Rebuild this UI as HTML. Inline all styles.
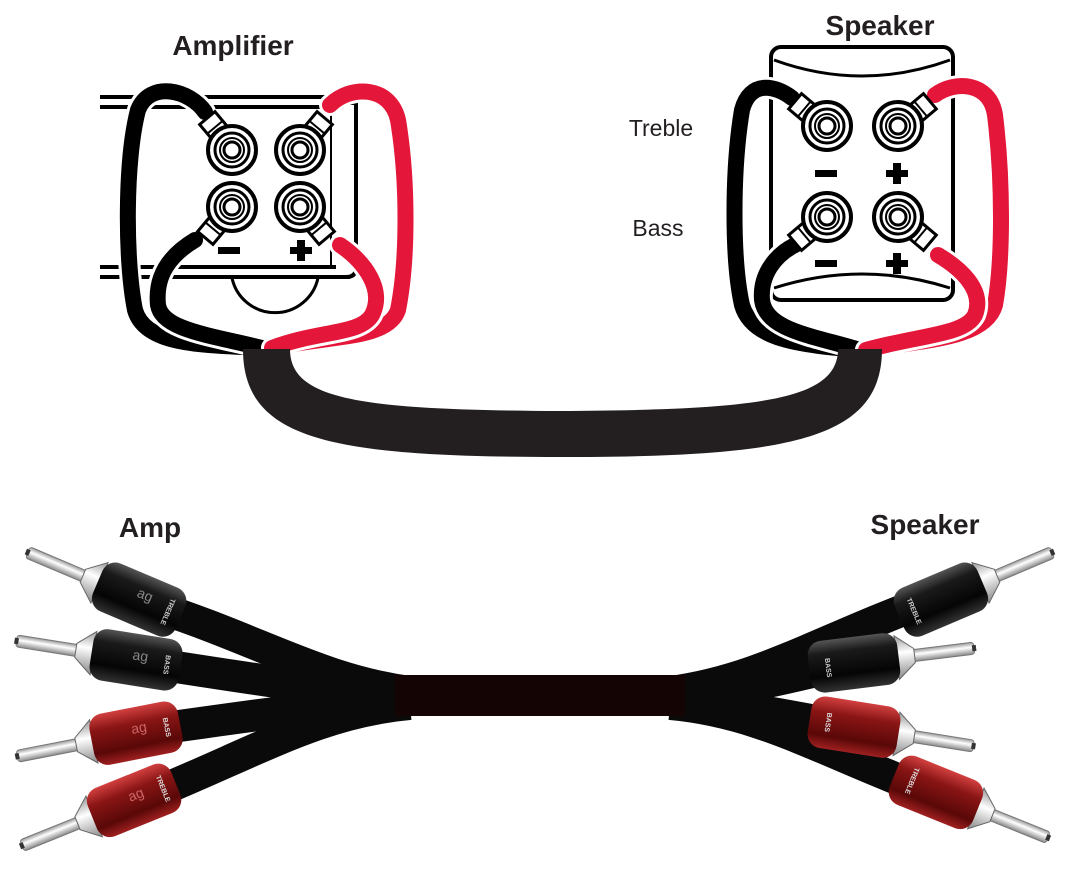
<!DOCTYPE html>
<html><head><meta charset="utf-8"><style>
html,body{margin:0;padding:0;background:#fff;}
svg{display:block;}
.t{font-family:"Liberation Sans",sans-serif;}
</style></head><body>
<svg width="1090" height="881" viewBox="0 0 1090 881" xmlns="http://www.w3.org/2000/svg">
<defs>
<linearGradient id="blk" x1="0" y1="0" x2="0" y2="1">
<stop offset="0" stop-color="#555"/><stop offset="0.25" stop-color="#1a1a1a"/><stop offset="0.7" stop-color="#050505"/><stop offset="1" stop-color="#333"/>
</linearGradient>
<linearGradient id="red" x1="0" y1="0" x2="0" y2="1">
<stop offset="0" stop-color="#d24040"/><stop offset="0.3" stop-color="#8a1515"/><stop offset="0.75" stop-color="#5a0808"/><stop offset="1" stop-color="#a02020"/>
</linearGradient>
<linearGradient id="pin" x1="0" y1="0" x2="0" y2="1">
<stop offset="0" stop-color="#999"/><stop offset="0.4" stop-color="#fff"/><stop offset="1" stop-color="#888"/>
</linearGradient>
<g id="term">
<circle r="24" fill="#fff" stroke="#000" stroke-width="4"/>
<circle r="17" fill="none" stroke="#000" stroke-width="3"/>
<circle r="12" fill="none" stroke="#000" stroke-width="2"/>
<circle r="8" fill="#fff" stroke="#000" stroke-width="3"/>
</g>
<g id="lug">
<path d="M-10,-6 L-10,-26 L10,-26 L10,-6 Q18,4 12,14" fill="#fff" stroke="#000" stroke-width="3"/>
<line x1="-10" y1="-14" x2="10" y2="-14" stroke="#000" stroke-width="2"/>
</g>
<g id="plugB">
<rect x="-122" y="-6" width="66" height="12" rx="3" fill="url(#pin)" stroke="#777" stroke-width="1"/>
<rect x="-124" y="-3" width="4" height="6" fill="#333"/>
<polygon points="-44,-22 -62,-7 -62,7 -44,22" fill="url(#pin)" stroke="#666" stroke-width="1"/>
<rect x="-46" y="-26" width="90" height="52" rx="14" fill="url(#blk)"/>
</g>
<g id="plugR">
<rect x="-122" y="-6" width="66" height="12" rx="3" fill="url(#pin)" stroke="#777" stroke-width="1"/>
<rect x="-124" y="-3" width="4" height="6" fill="#333"/>
<polygon points="-44,-22 -62,-7 -62,7 -44,22" fill="url(#pin)" stroke="#666" stroke-width="1"/>
<rect x="-46" y="-26" width="90" height="52" rx="14" fill="url(#red)"/>
</g>
</defs>

<text x="233" y="55" class="t" font-size="28" font-weight="bold" text-anchor="middle" fill="#231f20">Amplifier</text>
<g stroke="#000" stroke-width="4" fill="none">
<line x1="100" y1="97" x2="350" y2="97"/>
<line x1="100" y1="107" x2="336" y2="107"/>
<line x1="100" y1="267" x2="336" y2="267"/>
<line x1="100" y1="277" x2="350" y2="277"/>
<path d="M336,103 L356,103 L356,268 Q356,277 346,277"/>
</g>
<line x1="331" y1="105" x2="331" y2="265" stroke="#000" stroke-width="2"/>
<path d="M232,278 A44,44 0 0 0 318,278" fill="none" stroke="#000" stroke-width="3"/>

<g fill="none" stroke-linecap="round">
<path d="M205,112 C190,90 150,80 138,110 C125,160 125,260 135,310 C145,345 200,345 262,348" stroke="#fff" stroke-width="22"/>
<path d="M205,112 C190,90 150,80 138,110 C125,160 125,260 135,310 C145,345 200,345 262,348" stroke="#000" stroke-width="16"/>
<path d="M195,240 C170,255 155,275 158,305 C162,330 210,335 262,348" stroke="#fff" stroke-width="22"/>
<path d="M195,240 C170,255 155,275 158,305 C162,330 210,335 262,348" stroke="#000" stroke-width="16"/>
<path d="M330,105 C350,85 390,85 398,120 C408,180 408,260 398,310 C388,340 330,335 272,348" stroke="#fff" stroke-width="22"/>
<path d="M330,105 C350,85 390,85 398,120 C408,180 408,260 398,310 C388,340 330,335 272,348" stroke="#e4173a" stroke-width="16"/>
<path d="M340,245 C365,262 385,290 372,315 C360,335 320,330 272,348" stroke="#fff" stroke-width="22"/>
<path d="M340,245 C365,262 385,290 372,315 C360,335 320,330 272,348" stroke="#e4173a" stroke-width="16"/>
</g>
<use href="#lug" transform="translate(224,138) rotate(-40)"/>
<use href="#lug" transform="translate(308,138) rotate(40)"/>
<use href="#lug" transform="translate(222,218) rotate(-140)"/>
<use href="#lug" transform="translate(310,218) rotate(140)"/>
<use href="#term" x="232" y="150"/><use href="#term" x="300" y="150"/>
<use href="#term" x="232" y="207"/><use href="#term" x="300" y="207"/>
<rect x="218" y="247" width="22" height="7" fill="#000"/>
<rect x="290" y="247" width="22" height="7" fill="#000"/><rect x="297" y="240" width="8" height="21" fill="#000"/>

<text x="880" y="35" class="t" font-size="28" font-weight="bold" text-anchor="middle" fill="#231f20">Speaker</text>
<text x="661" y="136" class="t" font-size="23" text-anchor="middle" fill="#231f20">Treble</text>
<text x="658" y="236" class="t" font-size="23" text-anchor="middle" fill="#231f20">Bass</text>
<rect x="771" y="47" width="182" height="253" rx="10" fill="#fff" stroke="#000" stroke-width="4"/>
<path d="M774,60 Q862,92 950,60" fill="none" stroke="#000" stroke-width="3"/>
<path d="M774,288 Q862,260 950,288" fill="none" stroke="#000" stroke-width="3"/>
<g fill="none" stroke-linecap="round">
<path d="M792,98 C775,85 750,80 742,110 C732,170 732,260 742,305 C752,340 800,345 860,350" stroke="#fff" stroke-width="22"/>
<path d="M792,98 C775,85 750,80 742,110 C732,170 732,260 742,305 C752,340 800,345 860,350" stroke="#000" stroke-width="16"/>
<path d="M795,245 C775,255 760,275 762,300 C766,330 810,335 860,350" stroke="#fff" stroke-width="22"/>
<path d="M795,245 C775,255 760,275 762,300 C766,330 810,335 860,350" stroke="#000" stroke-width="16"/>
<path d="M935,95 C955,80 990,82 995,115 C1003,180 1003,260 995,305 C985,340 920,340 866,350" stroke="#fff" stroke-width="22"/>
<path d="M935,95 C955,80 990,82 995,115 C1003,180 1003,260 995,305 C985,340 920,340 866,350" stroke="#e4173a" stroke-width="16"/>
<path d="M938,255 C960,268 985,290 975,315 C965,335 920,335 866,350" stroke="#fff" stroke-width="22"/>
<path d="M938,255 C960,268 985,290 975,315 C965,335 920,335 866,350" stroke="#e4173a" stroke-width="16"/>
</g>
<use href="#lug" transform="translate(815,118) rotate(-50)"/>
<use href="#lug" transform="translate(910,118) rotate(50)"/>
<use href="#lug" transform="translate(815,226) rotate(-130)"/>
<use href="#lug" transform="translate(910,226) rotate(130)"/>
<use href="#term" x="827" y="126"/><use href="#term" x="898" y="126"/>
<use href="#term" x="827" y="217"/><use href="#term" x="898" y="217"/>
<rect x="815" y="170" width="22" height="7" fill="#000"/>
<rect x="886" y="170" width="22" height="7" fill="#000"/><rect x="893" y="163" width="8" height="21" fill="#000"/>
<rect x="815" y="260" width="22" height="7" fill="#000"/>
<rect x="886" y="260" width="22" height="7" fill="#000"/><rect x="893" y="253" width="8" height="21" fill="#000"/>

<path d="M243,349 C243,440 330,457 560,457 C790,457 882,440 882,349 L838,349 C838,400 760,410 560,411 C360,410 290,400 290,349 Z" fill="#231f20"/>

<text x="150" y="537" class="t" font-size="28" font-weight="bold" text-anchor="middle" fill="#231f20">Amp</text>
<text x="925" y="534" class="t" font-size="28" font-weight="bold" text-anchor="middle" fill="#231f20">Speaker</text>

<g fill="none" stroke="#0a0a0a" stroke-width="32">
<path d="M150,605 C260,640 320,680 410,692"/>
<path d="M150,663 C260,680 320,690 410,696"/>
<path d="M150,730 C260,715 320,705 410,700"/>
<path d="M150,795 C260,750 320,712 410,704"/>
<path d="M930,600 C820,640 760,680 670,692"/>
<path d="M850,663 C780,680 740,690 670,696"/>
<path d="M850,727 C780,715 740,705 670,700"/>
<path d="M930,792 C820,750 760,712 670,704"/>
</g>
<rect x="395" y="675" width="290" height="41" fill="#150404"/>

<g transform="translate(140,600) rotate(23)"><use href="#plugB"/><text x="-5" y="-2" class="t" font-size="14" fill="#888">ag</text><text transform="translate(28,0) rotate(90)" class="t" font-size="7" font-weight="bold" fill="#ccc" text-anchor="middle">TREBLE</text></g>
<g transform="translate(137,660) rotate(9)"><use href="#plugB"/><text x="-5" y="0" class="t" font-size="14" fill="#888">ag</text><text transform="translate(28,0) rotate(90)" class="t" font-size="7" font-weight="bold" fill="#ccc" text-anchor="middle">BASS</text></g>
<g transform="translate(137,733) rotate(-11)"><use href="#plugR"/><text x="-5" y="0" class="t" font-size="14" fill="#c66">ag</text><text transform="translate(28,0) rotate(90)" class="t" font-size="7" font-weight="bold" fill="#ddd" text-anchor="middle">BASS</text></g>
<g transform="translate(135,800) rotate(-22)"><use href="#plugR"/><text x="-5" y="0" class="t" font-size="14" fill="#c66">ag</text><text transform="translate(28,0) rotate(90)" class="t" font-size="7" font-weight="bold" fill="#ddd" text-anchor="middle">TREBLE</text></g>

<g transform="translate(940,600) rotate(-23) scale(-1,1)"><use href="#plugB"/></g>
<g transform="translate(853,663) rotate(-7) scale(-1,1)"><use href="#plugB"/></g>
<g transform="translate(853,727) rotate(9) scale(-1,1)"><use href="#plugR"/></g>
<g transform="translate(935,792) rotate(22) scale(-1,1)"><use href="#plugR"/></g>
<g class="t" font-size="7" font-weight="bold" fill="#ccc" text-anchor="middle">
<text transform="translate(912,612) rotate(67)">TREBLE</text>
<text transform="translate(826,668) rotate(83)">BASS</text>
<text transform="translate(826,722) rotate(99)" fill="#ddd">BASS</text>
<text transform="translate(910,780) rotate(112)" fill="#ddd">TREBLE</text>
</g>
</svg>
</body></html>
